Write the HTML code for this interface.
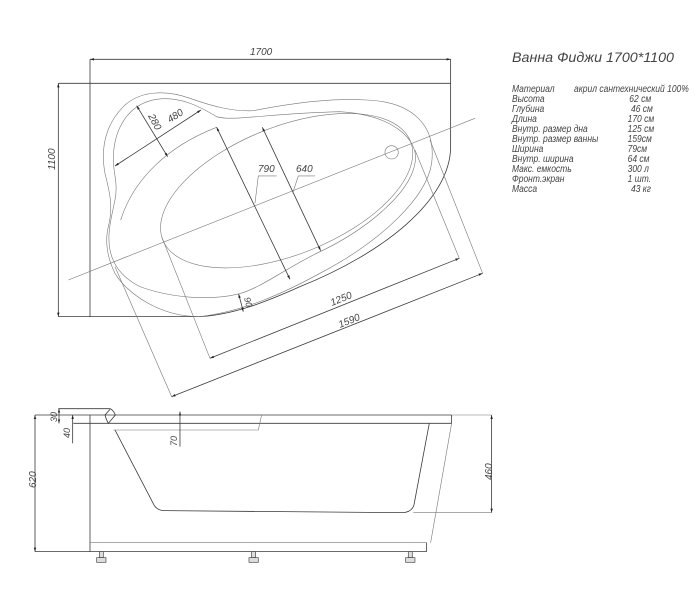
<!DOCTYPE html>
<html><head><meta charset="utf-8"><style>
html,body{margin:0;padding:0;background:#fff;}
svg{display:block;}
.l{fill:none;stroke:#3a3a3a;stroke-width:0.8;vector-effect:non-scaling-stroke;}
.t{fill:none;stroke:#777;stroke-width:0.6;vector-effect:non-scaling-stroke;}
text{font-family:"Liberation Sans",sans-serif;font-style:italic;fill:#444;}
</style></head><body>
<svg width="700" height="600" viewBox="0 0 700 600" xmlns="http://www.w3.org/2000/svg">
<defs>
<marker id="a" viewBox="0 0 10 10" refX="10" refY="5" markerWidth="5" markerHeight="5" orient="auto-start-reverse"><path d="M0,2 L10,5 L0,8 Z" fill="#222"/></marker>
</defs>
<!-- top view -->
<g transform="translate(0,40) scale(0.3333)">
<line class="l" x1="270" y1="58" x2="1352" y2="58" marker-start="url(#a)" marker-end="url(#a)"/>
<line class="l" x1="270" y1="58" x2="270" y2="830"/>
<line class="l" x1="175" y1="130" x2="1352" y2="130"/>
<line class="l" x1="175" y1="130" x2="175" y2="830" marker-start="url(#a)" marker-end="url(#a)"/>
<path class="l" d="M1352,58 L1352,320 C1352,480 1150,640 900,740 C800,785 700,825 598,830 L175,830"/>
<line class="t" x1="205" y1="720" x2="1425" y2="235"/>
<path class="t" d="M760,212 C900,185 1000,175 1100,180 C1230,185 1310,250 1295,370 C1280,470 1150,600 960,700 C850,760 730,815 598,830 C480,830 380,760 345,700 C320,650 315,600 325,560 C340,500 330,460 315,400 C300,320 320,250 370,200 C420,150 500,150 570,175 C640,200 700,215 760,212 Z"/>
<path class="t" d="M1020,215 C1180,225 1260,300 1245,370 C1230,460 1100,570 950,640 C850,690 780,745 716,762 C620,785 500,770 420,740 C370,715 340,680 330,630 C320,580 335,530 345,480 C355,430 340,400 340,360 C340,260 390,190 470,178 C540,168 600,200 650,230 C700,245 800,220 1020,215 Z"/>
<path class="t" d="M362,540 C400,420 500,320 650,262"/>
<ellipse class="t" cx="860" cy="452" rx="400" ry="192" transform="rotate(-21.7 860 452)"/>
<circle class="t" cx="1175" cy="337" r="20"/>
<line class="l" x1="410" y1="197" x2="503" y2="350" marker-start="url(#a)" marker-end="url(#a)"/>
<line class="l" x1="345" y1="378" x2="603" y2="210" marker-start="url(#a)" marker-end="url(#a)"/>
<line class="l" x1="650" y1="262" x2="870" y2="718" marker-start="url(#a)" marker-end="url(#a)"/>
<line class="l" x1="787" y1="262" x2="962" y2="632" marker-start="url(#a)" marker-end="url(#a)"/>
<polyline class="t" points="765,490 775,408 830,408"/>
<polyline class="t" points="878,460 895,408 945,408"/>
<line class="l" x1="716" y1="762" x2="730" y2="815" marker-start="url(#a)" marker-end="url(#a)"/>
<line class="t" x1="485" y1="590" x2="630" y2="955"/>
<line class="t" x1="1245" y1="330" x2="1378" y2="655"/>
<line class="l" x1="630" y1="955" x2="1378" y2="655" marker-start="url(#a)" marker-end="url(#a)"/>
<line class="t" x1="345" y1="680" x2="515" y2="1070"/>
<line class="t" x1="1290" y1="300" x2="1448" y2="700"/>
<line class="l" x1="515" y1="1070" x2="1448" y2="700" marker-start="url(#a)" marker-end="url(#a)"/>
</g>
<text x="250" y="55" font-size="10">1700</text>
<text font-size="10" transform="translate(55,170) rotate(-90)">1100</text>
<text font-size="10" transform="translate(148,116) rotate(62)">280</text>
<text font-size="10" transform="translate(170,123) rotate(-33)">480</text>
<text x="258" y="172" font-size="10">790</text>
<text x="296" y="172" font-size="10">640</text>
<text font-size="9" transform="translate(244,298) rotate(76)">90</text>
<text font-size="10" transform="translate(332,306) rotate(-22)">1250</text>
<text font-size="10" transform="translate(340,328) rotate(-22)">1590</text>
<!-- side view -->
<g transform="translate(0,380) scale(0.3333)">
<line class="l" x1="105" y1="105" x2="1355" y2="105"/>
<line class="l" x1="220" y1="130" x2="1355" y2="130"/>
<line class="l" x1="1355" y1="105" x2="1355" y2="130"/>
<line class="l" x1="270" y1="105" x2="270" y2="515"/>
<line class="l" x1="105" y1="515" x2="1280" y2="515"/>
<line class="t" x1="270" y1="488" x2="1280" y2="488"/>
<line class="l" x1="1280" y1="488" x2="1280" y2="515"/>
<line class="t" x1="1355" y1="130" x2="1292" y2="488"/>
<path class="l" d="M345,150 L462,375 Q472,392 495,392 L1205,398 Q1235,398 1242,375 L1288,130"/>
<path class="l" d="M175,86 L330,86 Q340,90 346,105 L325,130 Q318,118 315,105 L330,88"/>
<path class="t" d="M340,150 L775,150 L785,105"/>
<line class="l" x1="105" y1="105" x2="105" y2="515" marker-start="url(#a)" marker-end="url(#a)"/>
<line class="l" x1="177" y1="86" x2="177" y2="130" marker-start="url(#a)" marker-end="url(#a)"/>
<line class="l" x1="218" y1="105" x2="218" y2="190" marker-start="url(#a)"/>
<line class="l" x1="540" y1="95" x2="540" y2="200" marker-start="url(#a)"/>
<line class="l" x1="1475" y1="105" x2="1475" y2="398" marker-start="url(#a)" marker-end="url(#a)"/>
<line class="t" x1="1240" y1="398" x2="1475" y2="398"/>
<line class="t" x1="1355" y1="105" x2="1475" y2="105"/>
<g fill="#ddd" stroke="#444" stroke-width="2">
<rect x="298" y="515" width="12" height="18"/><rect x="290" y="533" width="28" height="14"/>
<rect x="755" y="515" width="12" height="18"/><rect x="747" y="533" width="28" height="14"/>
<rect x="1225" y="515" width="12" height="18"/><rect x="1217" y="533" width="28" height="14"/>
</g>
</g>
<text font-size="9" transform="translate(57,422) rotate(-90)">30</text>
<text font-size="9" transform="translate(70,438) rotate(-90)">40</text>
<text font-size="10" transform="translate(36,488) rotate(-90)">620</text>
<text font-size="9" transform="translate(177,446) rotate(-90)">70</text>
<text font-size="10" transform="translate(492,480) rotate(-90)">460</text>
<!-- info -->
<text x="512" y="62" font-size="14" fill="#666" textLength="162" lengthAdjust="spacingAndGlyphs">Ванна Фиджи 1700*1100</text>
<g font-size="10" transform="translate(512,0) scale(0.85,1) translate(-512,0)">
<text x="512" y="92">Материал</text><text x="585" y="92">акрил сантехнический 100%</text>
<text x="512" y="102">Высота</text><text x="650" y="102">62 см</text>
<text x="512" y="112">Глубина</text><text x="652" y="112">46 см</text>
<text x="512" y="122">Длина</text><text x="648" y="122">170 см</text>
<text x="512" y="132">Внутр. размер дна</text><text x="648" y="132">125 см</text>
<text x="512" y="142">Внутр. размер ванны</text><text x="648" y="142">159см</text>
<text x="512" y="152">Ширина</text><text x="648" y="152">79см</text>
<text x="512" y="162">Внутр. ширина</text><text x="648" y="162">64 см</text>
<text x="512" y="172">Макс. емкость</text><text x="648" y="172">300 л</text>
<text x="512" y="182">Фронт.экран</text><text x="648" y="182">1 шт.</text>
<text x="512" y="192">Масса</text><text x="652" y="192">43 кг</text>
</g>
</svg>
</body></html>
